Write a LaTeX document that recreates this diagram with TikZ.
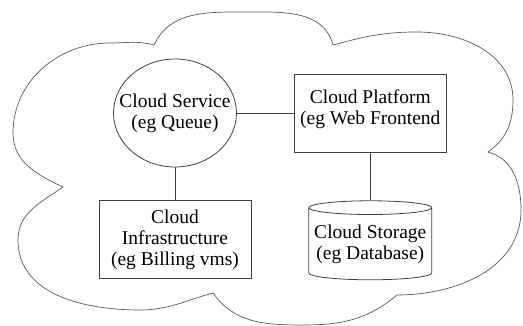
\documentclass[tikz,border=0pt]{standalone}
\usepackage{fontspec}
\setmainfont{Liberation Serif}
\usetikzlibrary{positioning,shapes.geometric}

\tikzset{
  part/.style={draw=black!75, line width=0.8pt, align=center, inner sep=1pt,
               font=\fontsize{19.5}{21}\selectfont},
  service/.style={part, ellipse, inner xsep=-13pt, inner ysep=0pt,
                  minimum width=123pt, minimum height=108pt},
  tier/.style={part, rectangle, minimum width=152pt, minimum height=78pt},
  store/.style={part, cylinder, shape border rotate=90, aspect=0.12,
                minimum width=123pt, minimum height=79pt},
  link/.style={draw=black!75, line width=0.8pt},
  cloudline/.style={draw=black!65, line width=0.7pt},
}

\begin{document}
\begin{tikzpicture}[x=1pt, y=1pt]

  \useasboundingbox (0,0) rectangle (523,326);

  % the cloud
  \path[cloudline] (63,139) to[out=155,in=-90] (13,193) to[out=90,in=180] (110,283)
    to[out=0,in=165] (154,281)
    to[out=65,in=180] (243,314) to[out=0,in=105] (333,281)
    to[out=15,in=180] (417,294) to[out=0,in=90] (513,226) to[out=-90,in=35] (488,174)
    to[out=-15,in=90] (521,116) to[out=-90,in=0] (397,31)
    to[out=-140,in=0] (303,1) to[out=180,in=-55] (213,33)
    to[out=-165,in=0] (140,16) to[out=180,in=-90] (18,86) to[out=90,in=-145] (63,139);

  % Define nodes
  \node[service]                      (service)  at (175,213) {Cloud Service\\(eg Queue)};
  \node[tier, right=57pt of service]  (platform) {Cloud Platform\\(eg Web Frontend\\[-9pt]\mbox{}};
  \node[tier, below=33pt of service]  (infra)    {Cloud\\Infrastructure\\(eg Billing vms)};
  \node[store, below=48pt of platform] (storage) {Cloud Storage\\(eg Database)};

  % Connect the nodes
  \draw[link] (service) -- (platform);
  \draw[link] (service) -- (infra);
  \draw[link] (platform) -- (storage);

\end{tikzpicture}
\end{document}
